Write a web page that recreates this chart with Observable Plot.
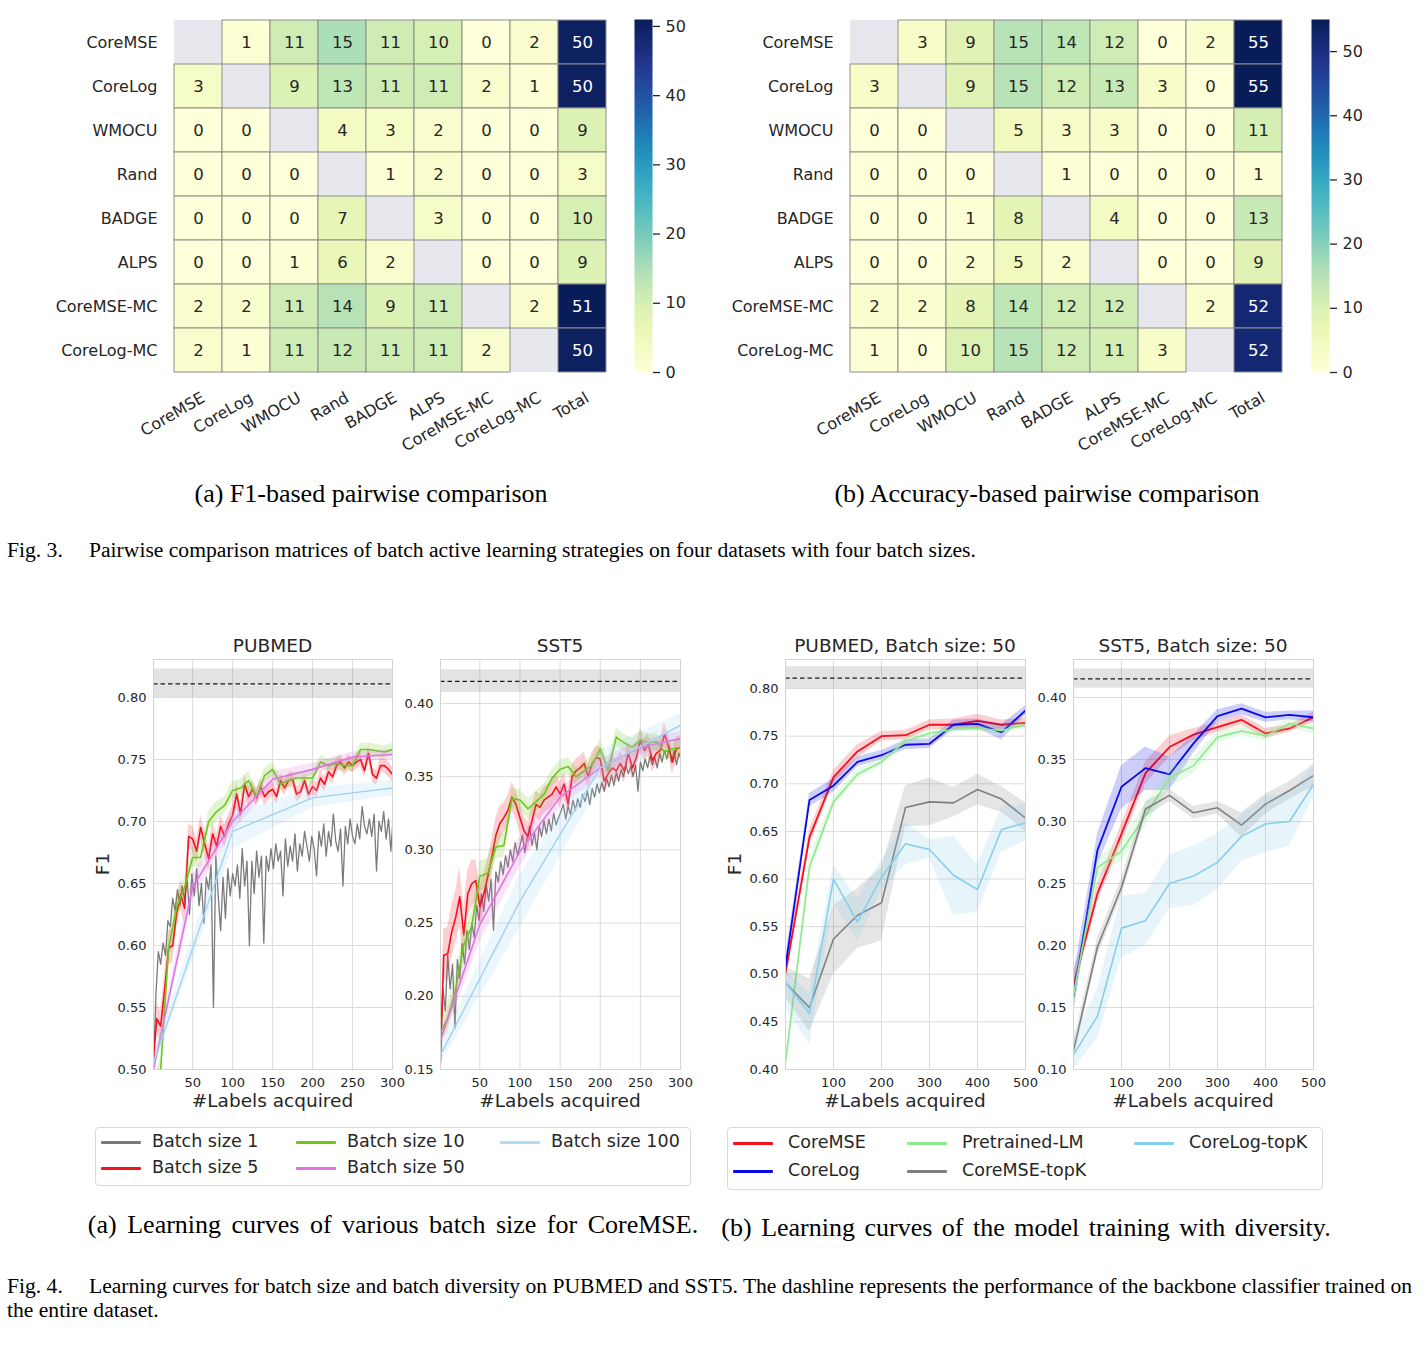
<!DOCTYPE html>
<html>
<head>
<meta charset="utf-8">
<script src="https://cdn.jsdelivr.net/npm/d3@7"></script>
<script src="https://cdn.jsdelivr.net/npm/@observablehq/plot@0.6"></script>
<style>
  html, body { margin: 0; padding: 0; background: #fff; }
  #root { position: relative; width: 1425px; height: 1359px; overflow: hidden; background: #fff;
          font-family: "DejaVu Sans", sans-serif; color: #262626; }
  .abs { position: absolute; white-space: nowrap; line-height: 1; }
  .serif { font-family: "Liberation Serif", "Times New Roman", serif; color: #000; }
  .legend { position: absolute; border: 1px solid #d9d9d9; border-radius: 4px; background: #fff; box-sizing: border-box; }
  .sw { position: absolute; height: 3px; border-radius: 1px; }
</style>
</head>
<body>
<div id="root"></div>
<script>
// ---------------- DATA: Fig. 3 heatmaps ----------------
const rowNames = ["CoreMSE", "CoreLog", "WMOCU", "Rand", "BADGE", "ALPS", "CoreMSE-MC", "CoreLog-MC"];
const colNames = ["CoreMSE", "CoreLog", "WMOCU", "Rand", "BADGE", "ALPS", "CoreMSE-MC", "CoreLog-MC", "Total"];
const f1Matrix = [
  [null, 1, 11, 15, 11, 10, 0, 2, 50],
  [3, null, 9, 13, 11, 11, 2, 1, 50],
  [0, 0, null, 4, 3, 2, 0, 0, 9],
  [0, 0, 0, null, 1, 2, 0, 0, 3],
  [0, 0, 0, 7, null, 3, 0, 0, 10],
  [0, 0, 1, 6, 2, null, 0, 0, 9],
  [2, 2, 11, 14, 9, 11, null, 2, 51],
  [2, 1, 11, 12, 11, 11, 2, null, 50]
];
const accMatrix = [
  [null, 3, 9, 15, 14, 12, 0, 2, 55],
  [3, null, 9, 15, 12, 13, 3, 0, 55],
  [0, 0, null, 5, 3, 3, 0, 0, 11],
  [0, 0, 0, null, 1, 0, 0, 0, 1],
  [0, 0, 1, 8, null, 4, 0, 0, 13],
  [0, 0, 2, 5, 2, null, 0, 0, 9],
  [2, 2, 8, 14, 12, 12, null, 2, 52],
  [1, 0, 10, 15, 12, 11, 3, null, 52]
];
const colorbarTicks = [0, 10, 20, 30, 40, 50];

// ---------------- DATA: Fig. 4(a) batch sizes ----------------
const b1X = [1,4,7,10,13,16,19,22,25,28, 31,34,37,40,43,46,49,52,55,58, 61,64,67,70,73,76,79,82,85,88,
  91,94,97,100,103,106,109,112,115,118, 121,124,127,130,133,136,139,142,145,148, 151,154,157,160,163,166,169,172,175,178,
  181,184,187,190,193,196,199,202,205,208, 211,214,217,220,223,226,229,232,235,238, 241,244,247,250,253,256,259,262,265,268,
  271,274,277,280,283,286,289,292,295,298, 300];
const b5X = [1,5,10,15,20,25,30,35,40,45,50,55,60,65,70,75,80,85,90,95,100,105,110,115,120,125,130,135,140,145,150,
  155,160,165,170,175,180,185,190,195,200,205,210,215,220,225,230,235,240,245,250,255,260,265,270,275,280,285,290,295,300];
const b10X = [1,10,20,30,40,50,60,70,80,90,100,110,120,130,140,150,160,170,180,190,200,210,220,230,240,250,260,270,280,290,300];
const b50X = [1,50,100,150,200,250,300];
const b100X = [1,100,200,300];

const pubB1 = [0.500,0.560,0.595,0.585,0.602,0.592,0.620,0.615,0.638,0.628,
  0.645,0.632,0.648,0.636,0.655,0.625,0.658,0.640,0.662,0.632,
  0.650,0.618,0.655,0.645,0.665,0.550,0.672,0.640,0.612,0.655,
  0.622,0.662,0.640,0.658,0.648,0.665,0.638,0.678,0.648,0.668,
  0.600,0.668,0.642,0.676,0.655,0.672,0.602,0.672,0.660,0.678,
  0.662,0.682,0.668,0.676,0.640,0.686,0.664,0.680,0.668,0.690,
  0.660,0.682,0.672,0.692,0.680,0.668,0.688,0.678,0.656,0.692,
  0.680,0.698,0.672,0.692,0.680,0.706,0.684,0.676,0.694,0.648,
  0.696,0.682,0.702,0.688,0.682,0.698,0.686,0.712,0.696,0.690,
  0.702,0.688,0.706,0.660,0.700,0.692,0.708,0.686,0.702,0.676, 0.696];
const pubB5 = [0.508,0.541,0.535,0.565,0.598,0.600,0.626,0.641,0.630,0.688,
  0.686,0.676,0.695,0.682,0.670,0.690,0.680,0.696,0.688,0.698,
  0.705,0.722,0.706,0.730,0.720,0.726,0.719,0.728,0.720,0.724,
  0.726,0.720,0.733,0.727,0.733,0.734,0.722,0.724,0.733,0.722,
  0.728,0.725,0.735,0.730,0.740,0.736,0.745,0.748,0.743,0.748,
  0.745,0.748,0.750,0.741,0.755,0.738,0.735,0.745,0.745,0.742, 0.738];
const pubB5Err = [0.006,0.012,0.012,0.014,0.014,0.014,0.012,0.012,0.012,0.010,
  0.010,0.010,0.010,0.010,0.010,0.010,0.009,0.009,0.009,0.008,
  0.008,0.010,0.008,0.008,0.008,0.007,0.007,0.007,0.007,0.007,
  0.006,0.006,0.006,0.006,0.006,0.006,0.006,0.006,0.006,0.006,
  0.006,0.006,0.006,0.006,0.006,0.006,0.006,0.006,0.006,0.006,
  0.006,0.006,0.006,0.006,0.006,0.006,0.006,0.006,0.006,0.006, 0.006];
const pubB10 = [0.480,0.500,0.598,0.631,0.647,0.671,0.671,0.700,0.708,0.713,0.725,0.727,0.733,0.720,0.737,0.742,
  0.730,0.733,0.735,0.735,0.735,0.748,0.745,0.747,0.745,0.745,0.758,0.758,0.757,0.756,0.758];
const pubB10Err = [0.008,0.010,0.010,0.010,0.008,0.008,0.008,0.008,0.008,0.007,0.007,0.007,0.007,0.006,0.006,0.006,
  0.006,0.005,0.005,0.005,0.005,0.005,0.005,0.005,0.005,0.005,0.005,0.005,0.005,0.005,0.005];
const pubB50 = [0.500, 0.647, 0.700, 0.734, 0.742, 0.752, 0.754];
const pubB50Err = [0.004, 0.010, 0.008, 0.006, 0.005, 0.004, 0.004];
const pubB100 = [0.505, 0.692, 0.719, 0.727];
const pubB100Err = [0.006, 0.014, 0.008, 0.006];

const sstB1 = [0.170,0.205,0.190,0.228,0.205,0.222,0.178,0.225,0.212,0.236,
  0.222,0.245,0.232,0.250,0.240,0.262,0.252,0.270,0.258,0.276,
  0.265,0.280,0.245,0.285,0.278,0.292,0.283,0.296,0.288,0.300,
  0.292,0.305,0.296,0.303,0.310,0.298,0.308,0.316,0.303,0.312,
  0.300,0.316,0.309,0.320,0.311,0.321,0.313,0.325,0.317,0.322,
  0.326,0.331,0.321,0.330,0.324,0.334,0.327,0.335,0.329,0.338,
  0.333,0.340,0.331,0.342,0.336,0.345,0.339,0.346,0.340,0.349,
  0.343,0.351,0.344,0.353,0.347,0.355,0.350,0.358,0.352,0.357,
  0.350,0.358,0.340,0.360,0.354,0.362,0.356,0.364,0.358,0.363,
  0.356,0.366,0.360,0.368,0.362,0.370,0.360,0.368,0.358,0.366, 0.363];
const sstB5 = [0.155,0.228,0.229,0.244,0.254,0.268,0.242,0.270,0.277,0.279,
  0.261,0.270,0.282,0.295,0.310,0.318,0.322,0.327,0.336,0.331,
  0.322,0.313,0.309,0.320,0.331,0.329,0.334,0.336,0.338,0.343,
  0.338,0.345,0.331,0.350,0.354,0.356,0.359,0.350,0.359,0.363,
  0.362,0.347,0.352,0.356,0.354,0.359,0.354,0.366,0.356,0.363,
  0.375,0.368,0.372,0.361,0.366,0.368,0.379,0.371,0.360,0.369, 0.370];
const sstB5Err = [0.010,0.018,0.018,0.018,0.018,0.020,0.018,0.016,0.016,0.014,
  0.014,0.014,0.012,0.012,0.012,0.012,0.010,0.010,0.010,0.010,
  0.010,0.010,0.010,0.010,0.009,0.009,0.009,0.009,0.009,0.009,
  0.008,0.008,0.008,0.008,0.008,0.008,0.008,0.008,0.008,0.008,
  0.008,0.008,0.008,0.008,0.008,0.008,0.008,0.008,0.008,0.008,
  0.008,0.008,0.008,0.008,0.008,0.008,0.008,0.008,0.008,0.008, 0.008];
const sstB10 = [0.175,0.185,0.205,0.235,0.248,0.282,0.284,0.302,0.303,0.335,0.334,0.328,0.333,0.338,0.349,0.355,
  0.357,0.350,0.354,0.358,0.369,0.354,0.377,0.373,0.370,0.375,0.373,0.374,0.367,0.369,0.370];
const sstB10Err = [0.008,0.010,0.010,0.010,0.010,0.010,0.010,0.008,0.008,0.007,0.007,0.007,0.007,0.007,0.006,0.006,
  0.006,0.006,0.006,0.006,0.006,0.006,0.006,0.006,0.006,0.006,0.006,0.006,0.006,0.006,0.006];
const sstB50 = [0.170, 0.249, 0.299, 0.336, 0.356, 0.370, 0.376];
const sstB50Err = [0.005, 0.012, 0.010, 0.007, 0.006, 0.005, 0.005];
const sstB100 = [0.160, 0.265, 0.356, 0.385];
const sstB100Err = [0.006, 0.018, 0.012, 0.008];

// reference line (full-dataset performance): [mean, band low, band high]
const pubRef = [0.811, 0.800, 0.823];
const sstRef = [0.415, 0.4075, 0.423];

// ---------------- DATA: Fig. 4(b) diversity, batch size 50 ----------------
const divX = [0, 50, 100, 150, 200, 250, 300, 350, 400, 450, 500];
const pubMSE   = [0.501, 0.644, 0.707, 0.734, 0.750, 0.751, 0.762, 0.762, 0.766, 0.762, 0.764];
const pubMSELo = [0.492, 0.635, 0.700, 0.727, 0.745, 0.746, 0.757, 0.757, 0.758, 0.757, 0.759];
const pubMSEHi = [0.510, 0.652, 0.714, 0.741, 0.755, 0.756, 0.767, 0.768, 0.773, 0.767, 0.769];
const pubLog   = [0.508, 0.683, 0.698, 0.723, 0.730, 0.741, 0.742, 0.762, 0.763, 0.754, 0.777];
const pubLogLo = [0.498, 0.676, 0.691, 0.718, 0.725, 0.736, 0.737, 0.757, 0.758, 0.746, 0.772];
const pubLogHi = [0.518, 0.690, 0.705, 0.728, 0.735, 0.746, 0.747, 0.767, 0.768, 0.762, 0.782];
const pubLM    = [0.407, 0.613, 0.681, 0.710, 0.723, 0.745, 0.753, 0.757, 0.758, 0.756, 0.762];
const pubLMLo  = [0.400, 0.603, 0.675, 0.705, 0.719, 0.741, 0.749, 0.754, 0.755, 0.752, 0.758];
const pubLMHi  = [0.414, 0.623, 0.687, 0.715, 0.727, 0.749, 0.757, 0.760, 0.761, 0.760, 0.766];
const pubMSEk   = [0.491, 0.465, 0.537, 0.562, 0.575, 0.675, 0.681, 0.680, 0.694, 0.684, 0.664];
const pubMSEkLo = [0.475, 0.440, 0.500, 0.527, 0.535, 0.655, 0.656, 0.665, 0.678, 0.670, 0.650];
const pubMSEkHi = [0.508, 0.495, 0.572, 0.590, 0.612, 0.698, 0.706, 0.696, 0.710, 0.697, 0.680];
const pubLogk   = [0.491, 0.459, 0.600, 0.555, 0.602, 0.637, 0.631, 0.604, 0.589, 0.652, 0.659];
const pubLogkLo = [0.465, 0.426, 0.575, 0.535, 0.588, 0.615, 0.622, 0.562, 0.565, 0.628, 0.640];
const pubLogkHi = [0.505, 0.480, 0.615, 0.580, 0.620, 0.660, 0.641, 0.645, 0.615, 0.675, 0.678];

const sstMSE   = [0.168, 0.242, 0.290, 0.339, 0.360, 0.370, 0.376, 0.382, 0.371, 0.375, 0.384];
const sstMSELo = [0.160, 0.235, 0.282, 0.330, 0.352, 0.365, 0.372, 0.378, 0.367, 0.372, 0.380];
const sstMSEHi = [0.178, 0.250, 0.298, 0.348, 0.369, 0.375, 0.380, 0.386, 0.375, 0.378, 0.388];
const sstLog   = [0.159, 0.277, 0.328, 0.343, 0.338, 0.363, 0.385, 0.391, 0.384, 0.386, 0.384];
const sstLogLo = [0.145, 0.265, 0.310, 0.325, 0.325, 0.355, 0.380, 0.386, 0.380, 0.382, 0.380];
const sstLogHi = [0.175, 0.290, 0.345, 0.360, 0.352, 0.370, 0.390, 0.395, 0.388, 0.389, 0.389];
const sstLM    = [0.160, 0.263, 0.276, 0.305, 0.335, 0.345, 0.368, 0.373, 0.369, 0.379, 0.375];
const sstLMLo  = [0.150, 0.255, 0.268, 0.296, 0.328, 0.338, 0.363, 0.369, 0.365, 0.375, 0.371];
const sstLMHi  = [0.170, 0.271, 0.284, 0.314, 0.342, 0.352, 0.373, 0.377, 0.373, 0.383, 0.379];
const sstMSEk   = [0.115, 0.199, 0.247, 0.310, 0.321, 0.307, 0.311, 0.297, 0.314, 0.325, 0.337];
const sstMSEkLo = [0.108, 0.192, 0.240, 0.303, 0.316, 0.302, 0.306, 0.287, 0.306, 0.318, 0.328];
const sstMSEkHi = [0.122, 0.206, 0.254, 0.316, 0.326, 0.312, 0.316, 0.307, 0.322, 0.332, 0.346];
const sstLogk   = [0.112, 0.143, 0.214, 0.220, 0.250, 0.256, 0.267, 0.288, 0.298, 0.300, 0.330];
const sstLogkLo = [0.100, 0.125, 0.190, 0.200, 0.230, 0.232, 0.245, 0.268, 0.275, 0.280, 0.320];
const sstLogkHi = [0.125, 0.165, 0.240, 0.242, 0.273, 0.280, 0.290, 0.305, 0.320, 0.322, 0.345];

// ticks
const xTicks300 = [50, 100, 150, 200, 250, 300];
const xTicks500 = [100, 200, 300, 400, 500];
const yTicksPub = [0.50, 0.55, 0.60, 0.65, 0.70, 0.75, 0.80];
const yTicksSst = [0.15, 0.20, 0.25, 0.30, 0.35, 0.40];
const yTicksPub50 = [0.40, 0.45, 0.50, 0.55, 0.60, 0.65, 0.70, 0.75, 0.80];
const yTicksSst50 = [0.10, 0.15, 0.20, 0.25, 0.30, 0.35, 0.40];

// legends
const batchLabels = ["Batch size 1", "Batch size 5", "Batch size 10", "Batch size 50", "Batch size 100"];
const batchColors = ["#7a7a7a", "#f5101e", "#6cc81a", "#e173e1", "#b3dcf5"];
const divLabels = ["CoreMSE", "CoreLog", "Pretrained-LM", "CoreMSE-topK", "CoreLog-topK"];
const divColors = ["#f5101e", "#0a0ae6", "#8eea8e", "#7f7f7f", "#87ceeb"];

// ---------------- helpers ----------------
const root = document.getElementById("root");
function place(el, left, top) {
  el.style.position = "absolute";
  el.style.left = left + "px";
  el.style.top = top + "px";
  root.appendChild(el);
  return el;
}
function txt(s, x, y, size, o = {}) {
  const d = document.createElement("div");
  d.className = "abs" + (o.serif ? " serif" : "");
  d.textContent = s;
  d.style.fontSize = size + "px";
  if (o.wordSpacing) d.style.wordSpacing = o.wordSpacing + "px";
  d.style.left = x + "px";
  d.style.top = y + "px";
  const tx = o.left ? "0" : "-50%";
  d.style.transform = `translate(${tx}, -50%)` + (o.rotate ? ` rotate(${o.rotate}deg)` : "");
  root.appendChild(d);
  return d;
}
const baseStyle = { background: "transparent", overflow: "visible", fontFamily: "DejaVu Sans", color: "#262626" };

// ---------------- heatmaps ----------------
function heatmap(matrix, gridLeft, cbLeft) {
  const cells = [];
  matrix.forEach((row, i) => row.forEach((v, j) => cells.push({ r: rowNames[i], c: colNames[j], v })));
  const vals = cells.filter(d => d.v != null);
  const vmax = d3.max(vals, d => d.v);
  const ML = 170, MT = 19, GW = 434, GH = 353;
  const svg = Plot.plot({
    width: ML + GW + 10, height: MT + GH + 110,
    marginLeft: ML, marginRight: 10, marginTop: MT, marginBottom: 110,
    style: baseStyle,
    x: { domain: colNames, padding: 0, label: null },
    y: { domain: rowNames, padding: 0, label: null },
    color: { type: "linear", scheme: "YlGnBu", domain: [0, vmax] },
    marks: [
      Plot.cell(cells.filter(d => d.v == null), { x: "c", y: "r", fill: "#e7e8ee" }),
      Plot.cell(vals, { x: "c", y: "r", fill: "v", stroke: "#8d8d8d", strokeWidth: 1 }),
      Plot.text(vals.filter(d => d.v <= 30), { x: "c", y: "r", text: d => String(d.v), fill: "#262626", fontSize: 16.5 }),
      Plot.text(vals.filter(d => d.v > 30), { x: "c", y: "r", text: d => String(d.v), fill: "white", fontSize: 16.5 }),
      Plot.axisX({ tickRotate: -30, tickSize: 0, tickPadding: 24, dx: 5, fontSize: 16, label: null }),
      Plot.axisY({ tickSize: 0, tickPadding: 16, fontSize: 16, label: null })
    ]
  });
  place(svg, gridLeft - ML, 0);

  const cb = Plot.plot({
    width: 18 + 60, height: MT + GH + 10,
    marginLeft: 0, marginRight: 60, marginTop: MT, marginBottom: 10,
    style: baseStyle,
    x: { domain: [0, 1], axis: null },
    y: { domain: [0, vmax], label: null },
    color: { type: "linear", scheme: "YlGnBu", domain: [0, vmax] },
    marks: [
      Plot.raster({ fill: (x, y) => y, x1: 0, x2: 1, y1: 0, y2: vmax, width: 2, height: 300, imageRendering: "auto" }),
      Plot.axisY({ anchor: "right", ticks: colorbarTicks, tickSize: 7, tickPadding: 6, strokeWidth: 1.3, fontSize: 16, label: null })
    ]
  });
  place(cb, cbLeft, 0);
}
heatmap(f1Matrix, 173, 634);
heatmap(accMatrix, 849, 1311);

// ---------------- line panels ----------------
function series(x, y, color, sw, err, lo, hi) {
  return { x, y, color, sw, err, lo, hi };
}
function linePanel(cfg) {
  const [x0, y0, x1, y1] = cfg.frame;
  const ML = 70, MR = 20, MT = 12, MB = 30;
  const marks = [
    Plot.gridX(cfg.xticks, { stroke: "#dcdcdc", strokeOpacity: 1, strokeWidth: 1 }),
    Plot.gridY(cfg.yticks, { stroke: "#dcdcdc", strokeOpacity: 1, strokeWidth: 1 }),
    Plot.rect([cfg.ref], { x1: cfg.xdomain[0], x2: cfg.xdomain[1], y1: d => d[1], y2: d => d[2], fill: "#808080", fillOpacity: 0.22 }),
    Plot.ruleY([cfg.ref[0]], { stroke: "#1a1a1a", strokeDasharray: "4.5,3", strokeWidth: 1.3 })
  ];
  for (const s of cfg.series) {
    const t = s.x.map((x, i) => ({
      x, y: s.y[i],
      lo: s.lo ? s.lo[i] : (s.err ? s.y[i] - s.err[i] : null),
      hi: s.hi ? s.hi[i] : (s.err ? s.y[i] + s.err[i] : null)
    }));
    if (s.lo || s.err) marks.push(Plot.areaY(t, { x: "x", y1: "lo", y2: "hi", fill: s.color, fillOpacity: 0.2, clip: true }));
    marks.push(Plot.lineY(t, { x: "x", y: "y", stroke: s.color, strokeWidth: s.sw, clip: true }));
  }
  marks.push(
    Plot.frame({ stroke: "#d4d4d4" }),
    Plot.axisX({ ticks: cfg.xticks, tickSize: 0, tickPadding: 8, fontSize: 13, label: null }),
    Plot.axisY({ ticks: cfg.yticks, tickFormat: d3.format(".2f"), tickSize: 0, tickPadding: 7, fontSize: 13, label: null })
  );
  const svg = Plot.plot({
    width: (x1 - x0) + ML + MR, height: (y1 - y0) + MT + MB,
    marginLeft: ML, marginRight: MR, marginTop: MT, marginBottom: MB,
    style: baseStyle,
    x: { domain: cfg.xdomain },
    y: { domain: cfg.ydomain },
    marks
  });
  place(svg, x0 - ML, y0 - MT);
  const cx = (x0 + x1) / 2;
  txt(cfg.title, cx, 646, 18.5);
  txt("#Labels acquired", cx, 1101, 18.5);
  if (cfg.ylabel) txt("F1", x0 - 50, (y0 + y1) / 2, 18.5, { rotate: -90 });
}

linePanel({
  frame: [153, 659, 392, 1069], title: "PUBMED", ylabel: true,
  xdomain: [1, 300], xticks: xTicks300, ydomain: [0.50, 0.8306], yticks: yTicksPub, ref: pubRef,
  series: [
    series(b1X, pubB1, batchColors[0], 1.3),
    series(b5X, pubB5, batchColors[1], 1.6, pubB5Err),
    series(b10X, pubB10, batchColors[2], 1.6, pubB10Err),
    series(b50X, pubB50, batchColors[3], 1.6, pubB50Err),
    series(b100X, pubB100, "#9fd3f3", 1.4, pubB100Err)
  ]
});
linePanel({
  frame: [440, 659, 680, 1069], title: "SST5", ylabel: false,
  xdomain: [1, 300], xticks: xTicks300, ydomain: [0.15, 0.430], yticks: yTicksSst, ref: sstRef,
  series: [
    series(b1X, sstB1, batchColors[0], 1.3),
    series(b5X, sstB5, batchColors[1], 1.6, sstB5Err),
    series(b10X, sstB10, batchColors[2], 1.6, sstB10Err),
    series(b50X, sstB50, batchColors[3], 1.6, sstB50Err),
    series(b100X, sstB100, "#9fd3f3", 1.4, sstB100Err)
  ]
});
linePanel({
  frame: [785, 659, 1025, 1069], title: "PUBMED, Batch size: 50", ylabel: true,
  xdomain: [0, 500], xticks: xTicks500, ydomain: [0.40, 0.8305], yticks: yTicksPub50, ref: pubRef,
  series: [
    series(divX, pubMSE, divColors[0], 1.8, null, pubMSELo, pubMSEHi),
    series(divX, pubLog, divColors[1], 1.8, null, pubLogLo, pubLogHi),
    series(divX, pubLM, divColors[2], 1.6, null, pubLMLo, pubLMHi),
    series(divX, pubMSEk, divColors[3], 1.6, null, pubMSEkLo, pubMSEkHi),
    series(divX, pubLogk, divColors[4], 1.6, null, pubLogkLo, pubLogkHi)
  ]
});
linePanel({
  frame: [1073, 659, 1313, 1069], title: "SST5, Batch size: 50", ylabel: false,
  xdomain: [0, 500], xticks: xTicks500, ydomain: [0.10, 0.4306], yticks: yTicksSst50, ref: sstRef,
  series: [
    series(divX, sstMSE, divColors[0], 1.8, null, sstMSELo, sstMSEHi),
    series(divX, sstLog, divColors[1], 1.8, null, sstLogLo, sstLogHi),
    series(divX, sstLM, divColors[2], 1.6, null, sstLMLo, sstLMHi),
    series(divX, sstMSEk, divColors[3], 1.6, null, sstMSEkLo, sstMSEkHi),
    series(divX, sstLogk, divColors[4], 1.6, null, sstLogkLo, sstLogkHi)
  ]
});

// ---------------- legends ----------------
function legend(box, labels, colors, slots, textOffset) {
  const b = document.createElement("div");
  b.className = "legend";
  b.style.width = box[2] + "px";
  b.style.height = box[3] + "px";
  place(b, box[0], box[1]);
  labels.forEach((lab, i) => {
    const [sx, sy] = slots[i];
    const s = document.createElement("div");
    s.className = "sw";
    s.style.width = "40px";
    s.style.background = colors[i];
    place(s, sx, sy - 1.5);
    txt(lab, sx + textOffset, sy, 17.5, { left: true });
  });
}
legend([95, 1127, 596, 59], batchLabels, batchColors,
  [[101, 1142], [101, 1168], [296, 1142], [296, 1168], [500, 1142]], 51);
legend([727, 1127, 596, 63], divLabels, divColors,
  [[733, 1143], [733, 1171], [907, 1143], [907, 1171], [1134, 1143]], 55);

// ---------------- captions ----------------
txt("(a) F1-based pairwise comparison", 371, 494, 26, { serif: true });
txt("(b) Accuracy-based pairwise comparison", 1047, 494, 26, { serif: true });
txt("Fig. 3.", 7, 551, 21.6, { serif: true, left: true });
txt("Pairwise comparison matrices of batch active learning strategies on four datasets with four batch sizes.", 89, 551, 21.6, { serif: true, left: true });
txt("(a) Learning curves of various batch size for CoreMSE.", 393, 1225, 26, { serif: true, wordSpacing: 4 });
txt("(b) Learning curves of the model training with diversity.", 1026, 1228, 26, { serif: true, wordSpacing: 3 });
txt("Fig. 4.", 7, 1287, 21.6, { serif: true, left: true });
txt("Learning curves for batch size and batch diversity on PUBMED and SST5. The dashline represents the performance of the backbone classifier trained on", 89, 1287, 21.6, { serif: true, left: true });
txt("the entire dataset.", 7, 1311, 21.6, { serif: true, left: true });
</script>
</body>
</html>
